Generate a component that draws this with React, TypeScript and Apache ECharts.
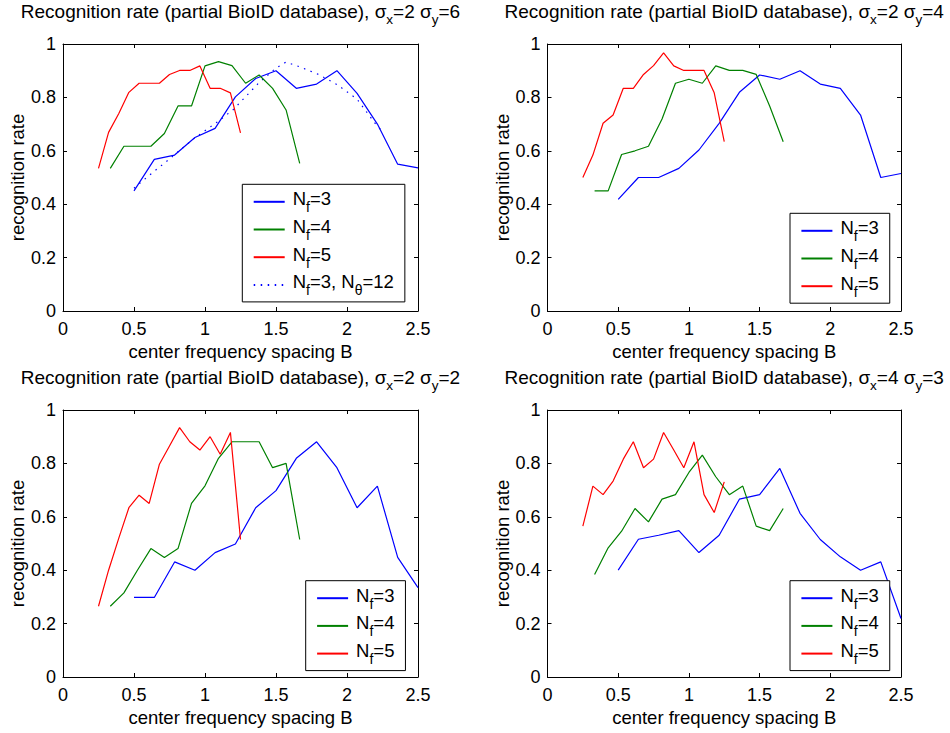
import React, { useEffect, useRef } from 'react';
import * as echarts from 'echarts';

// center frequency spacing B for each number of frequencies
const B_NF3 = [0.5, 0.643, 0.786, 0.929, 1.071, 1.214, 1.357, 1.5, 1.643, 1.786, 1.929, 2.071, 2.214, 2.357, 2.5];
const B_NF4 = [0.333, 0.429, 0.524, 0.619, 0.714, 0.81, 0.905, 1.0, 1.095, 1.19, 1.286, 1.381, 1.476, 1.571, 1.667];
const B_NF5 = [0.25, 0.321, 0.393, 0.464, 0.536, 0.607, 0.679, 0.75, 0.821, 0.893, 0.964, 1.036, 1.107, 1.179, 1.25];
const B_NF3_T12 = [0.5, 0.6, 0.74, 0.92, 1.1, 1.2, 1.38, 1.5, 1.57, 1.65, 1.8, 1.93, 2.07, 2.21, 2.26];

// sigma_x=2 sigma_y=6
const S26_NF3 = [0.45, 0.568, 0.584, 0.65, 0.684, 0.802, 0.871, 0.9, 0.834, 0.85, 0.9, 0.815, 0.7, 0.55, 0.536];
const S26_NF4 = [0.534, 0.617, 0.617, 0.617, 0.665, 0.768, 0.768, 0.918, 0.934, 0.919, 0.853, 0.884, 0.834, 0.753, 0.553];
const S26_NF5 = [0.534, 0.669, 0.74, 0.819, 0.853, 0.853, 0.853, 0.886, 0.901, 0.901, 0.918, 0.834, 0.834, 0.817, 0.667];
const S26_NF3_T12 = [0.46, 0.505, 0.565, 0.645, 0.713, 0.755, 0.855, 0.91, 0.932, 0.918, 0.886, 0.848, 0.794, 0.694, 0.668];

// sigma_x=2 sigma_y=4
const S24_NF3 = [0.418, 0.5, 0.5, 0.534, 0.603, 0.703, 0.819, 0.884, 0.868, 0.9, 0.85, 0.834, 0.734, 0.5, 0.515];
const S24_NF4 = [0.45, 0.45, 0.586, 0.6, 0.617, 0.719, 0.853, 0.868, 0.853, 0.918, 0.901, 0.901, 0.886, 0.768, 0.634];
const S24_NF5 = [0.5, 0.584, 0.703, 0.734, 0.834, 0.834, 0.886, 0.919, 0.967, 0.918, 0.901, 0.901, 0.901, 0.817, 0.634];

// sigma_x=2 sigma_y=2
const S22_NF3 = [0.298, 0.298, 0.431, 0.4, 0.466, 0.498, 0.634, 0.698, 0.819, 0.881, 0.784, 0.634, 0.715, 0.448, 0.335];
const S22_NF4 = [0.265, 0.315, 0.4, 0.481, 0.448, 0.481, 0.65, 0.716, 0.819, 0.881, 0.881, 0.881, 0.784, 0.8, 0.515];
const S22_NF5 = [0.265, 0.4, 0.52, 0.634, 0.681, 0.65, 0.797, 0.865, 0.934, 0.881, 0.85, 0.9, 0.834, 0.916, 0.515];

// sigma_x=4 sigma_y=3
const S43_NF3 = [0.4, 0.516, 0.531, 0.548, 0.466, 0.531, 0.666, 0.683, 0.781, 0.613, 0.515, 0.45, 0.4, 0.431, 0.219];
const S43_NF4 = [0.384, 0.484, 0.546, 0.631, 0.581, 0.666, 0.683, 0.766, 0.831, 0.75, 0.683, 0.715, 0.565, 0.548, 0.631];
const S43_NF5 = [0.565, 0.715, 0.683, 0.734, 0.816, 0.881, 0.784, 0.816, 0.916, 0.85, 0.784, 0.881, 0.683, 0.616, 0.731];

const SIGMAS = [
  ['2', '6'],
  ['2', '4'],
  ['2', '2'],
  ['4', '3'],
];

const NAME3 = 'Nf=3';
const NAME4 = 'Nf=4';
const NAME5 = 'Nf=5';
const NAME3T = 'Nf=3, Nθ=12';

const X_LABEL = 'center frequency spacing B';
const Y_LABEL = 'recognition rate';

const FONT = '"Liberation Sans", Arial, Helvetica, sans-serif';
const BLUE = '#0000ff';
const GREEN = '#008000';
const RED = '#ff0000';

const GRIDS = [
  { left: 63, top: 44, width: 355, height: 267 },
  { left: 547.5, top: 44, width: 353.5, height: 267 },
  { left: 63, top: 410, width: 355, height: 267 },
  { left: 547.5, top: 410, width: 353.5, height: 267 },
];

const LEGEND_POS = [
  { left: 242.3, top: 184.3 },
  { left: 790, top: 213.3 },
  { left: 305.7, top: 580.7 },
  { left: 790, top: 580.7 },
];

type SeriesDef = { name: string; xs: number[]; ys: number[]; color: string; dotted?: boolean };

const PANELS: SeriesDef[][] = [
  [
    { name: NAME3, xs: B_NF3, ys: S26_NF3, color: BLUE },
    { name: NAME4, xs: B_NF4, ys: S26_NF4, color: GREEN },
    { name: NAME5, xs: B_NF5, ys: S26_NF5, color: RED },
    { name: NAME3T, xs: B_NF3_T12, ys: S26_NF3_T12, color: BLUE, dotted: true },
  ],
  [
    { name: NAME3, xs: B_NF3, ys: S24_NF3, color: BLUE },
    { name: NAME4, xs: B_NF4, ys: S24_NF4, color: GREEN },
    { name: NAME5, xs: B_NF5, ys: S24_NF5, color: RED },
  ],
  [
    { name: NAME3, xs: B_NF3, ys: S22_NF3, color: BLUE },
    { name: NAME4, xs: B_NF4, ys: S22_NF4, color: GREEN },
    { name: NAME5, xs: B_NF5, ys: S22_NF5, color: RED },
  ],
  [
    { name: NAME3, xs: B_NF3, ys: S43_NF3, color: BLUE },
    { name: NAME4, xs: B_NF4, ys: S43_NF4, color: GREEN },
    { name: NAME5, xs: B_NF5, ys: S43_NF5, color: RED },
  ],
];

const LEGEND_RICH_TEXT: Record<string, string> = {
  [NAME3]: '{n|N}{s|f}{n|=3}',
  [NAME4]: '{n|N}{s|f}{n|=4}',
  [NAME5]: '{n|N}{s|f}{n|=5}',
  [NAME3T]: '{n|N}{s|f}{n|=3, N}{s|θ}{n|=12}',
};

function buildOption() {
  const xAxis: any[] = [];
  const yAxis: any[] = [];
  const series: any[] = [];
  const legend: any[] = [];
  const graphic: any[] = [];

  const axisLine = { show: true, onZero: false, lineStyle: { color: '#000', width: 1 } };
  const axisTick = { show: true, inside: true, length: 4, lineStyle: { color: '#000', width: 1 } };

  GRIDS.forEach((g, i) => {
    xAxis.push({
      gridIndex: i, type: 'value', position: 'bottom', min: 0, max: 2.5, interval: 0.5,
      axisLine, axisTick, splitLine: { show: false },
      axisLabel: { color: '#000', fontFamily: FONT, fontSize: 18, margin: 9 },
      name: X_LABEL, nameLocation: 'middle', nameGap: 31,
      nameTextStyle: { color: '#000', fontFamily: FONT, fontSize: 18.5 },
    });
    xAxis.push({
      gridIndex: i, type: 'value', position: 'top', min: 0, max: 2.5, interval: 0.5,
      axisLine, axisTick, splitLine: { show: false }, axisLabel: { show: false },
    });
    yAxis.push({
      gridIndex: i, type: 'value', position: 'left', min: 0, max: 1, interval: 0.2,
      axisLine, axisTick, splitLine: { show: false },
      axisLabel: { color: '#000', fontFamily: FONT, fontSize: 18, margin: 7 },
      name: Y_LABEL, nameLocation: 'middle', nameGap: 36,
      nameTextStyle: { color: '#000', fontFamily: FONT, fontSize: 18.5 },
    });
    yAxis.push({
      gridIndex: i, type: 'value', position: 'right', min: 0, max: 1, interval: 0.2,
      axisLine, axisTick, splitLine: { show: false }, axisLabel: { show: false },
    });

    PANELS[i].forEach((s) => {
      series.push({
        type: 'line', name: s.name, xAxisIndex: 2 * i, yAxisIndex: 2 * i,
        data: s.xs.map((x, k) => [x, s.ys[k]]),
        symbol: 'none', showSymbol: false, silent: true,
        lineStyle: { color: s.color, width: 1.2, type: s.dotted ? [1.5, 5.5] : 'solid' },
        itemStyle: { color: s.color },
        z: s.dotted ? 1 : 2,
      });
    });

    legend.push({
      show: true, orient: 'vertical', left: LEGEND_POS[i].left, top: LEGEND_POS[i].top,
      itemWidth: 31, itemHeight: 14, itemGap: 2.7,
      padding: [5, 11, 4.5, 10.4],
      borderColor: '#000', borderWidth: 1, backgroundColor: '#fff',
      selectedMode: false,
      data: PANELS[i].map((s) => s.name),
      formatter: (name: string) => LEGEND_RICH_TEXT[name] || name,
      itemStyle: { opacity: 0 },
      textStyle: {
        color: '#000', fontFamily: FONT, fontSize: 18.5, padding: [0, 0, 0, 3],
        rich: {
          n: { color: '#000', fontFamily: FONT, fontSize: 18.5, verticalAlign: 'top' },
          s: { color: '#000', fontFamily: FONT, fontSize: 14, verticalAlign: 'top', padding: [11, 0, 0, 0] },
        },
      },
    });

    const [sx, sy] = SIGMAS[i];
    graphic.push({
      type: 'text',
      x: g.left + g.width / 2,
      y: g.top - 30,
      silent: true,
      style: {
        text: `{t|Recognition rate (partial BioID database), σ}{s|x}{t|=${sx} σ}{s|y}{t|=${sy}}`,
        align: 'center',
        verticalAlign: 'middle',
        fill: '#000',
        fontFamily: FONT,
        fontSize: 19,
        rich: {
          t: { fill: '#000', color: '#000', fontFamily: FONT, fontSize: 19, verticalAlign: 'top' },
          s: { fill: '#000', color: '#000', fontFamily: FONT, fontSize: 13.5, verticalAlign: 'top', padding: [10, 0, 0, 0] },
        },
      },
    });
  });

  return {
    animation: false,
    backgroundColor: '#fff',
    grid: GRIDS.map((g) => ({ ...g, containLabel: false, show: false })),
    xAxis, yAxis, series, legend, graphic,
  };
}

export default function App() {
  const ref = useRef<HTMLDivElement>(null);
  useEffect(() => {
    if (!ref.current) return;
    const chart = echarts.init(ref.current, undefined, { renderer: 'svg' });
    chart.setOption(buildOption() as any);
    return () => chart.dispose();
  }, []);
  return (
    <div
      ref={ref}
      style={{ position: 'absolute', left: 0, top: 0, width: 950, height: 733, background: '#fff' }}
    />
  );
}
